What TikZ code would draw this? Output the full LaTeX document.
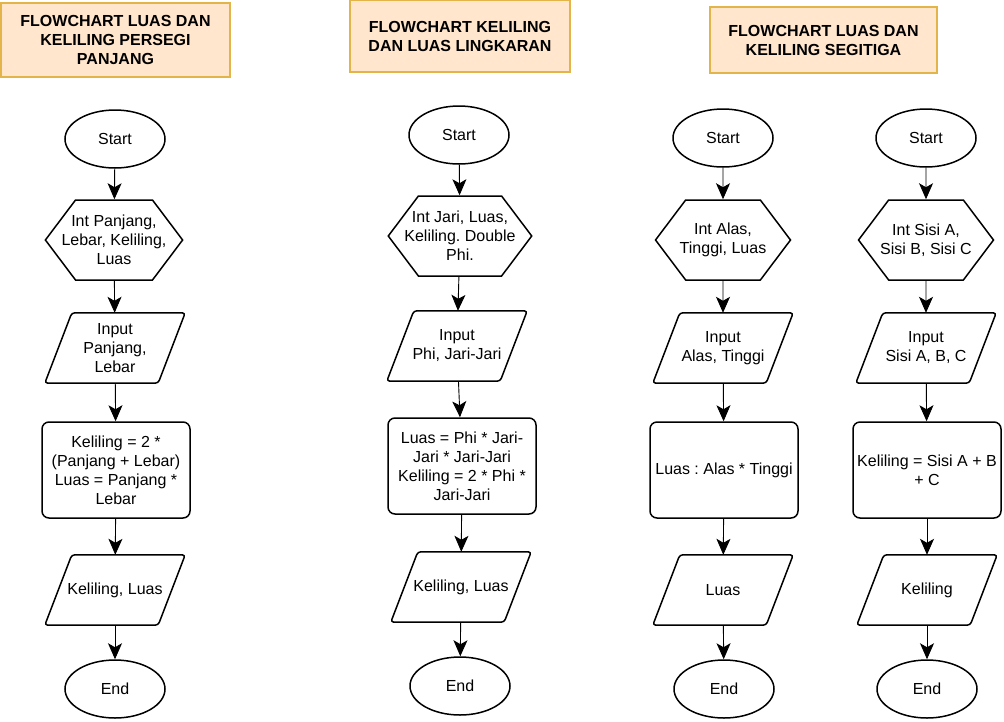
\documentclass[tikz,border=0pt]{standalone}
\usepackage{fontspec}
\setmainfont{Liberation Sans}
\usetikzlibrary{arrows.meta,shapes.geometric,shapes.symbols}
\definecolor{titlefill}{HTML}{FFE6CC}
\definecolor{titleline}{HTML}{E3B449}
\newcommand{\flowfont}{\fontsize{16}{19}\selectfont\frenchspacing}
\tikzset{
titlebox/.style={draw=titleline, fill=titlefill, line width=1.2pt, align=center, inner sep=0pt, font=\bfseries\flowfont},
termbox/.style={draw, ellipse, line width=1.5pt, minimum width=100pt, minimum height=58pt, inner sep=0pt, font=\flowfont},
declbox/.style={draw, signal, signal to=west and east, signal pointer angle=106, line width=1.5pt, minimum width=135pt, minimum height=80pt, inner xsep=-14pt, inner ysep=0pt, align=center, font=\flowfont},
iobox/.style={minimum width=113pt, minimum height=70pt, inner sep=0pt, align=center, font=\flowfont},
ioline/.style={draw, line width=1.5pt, rounded corners=3pt},
procbox/.style={draw, rounded corners=7pt, line width=1.5pt, minimum width=148pt, minimum height=96pt, inner sep=0pt, align=center, font=\flowfont},
flowarrow/.style={-{Stealth[length=16pt, width=14pt, inset=4pt]}, line width=0.9pt}
}
\begin{document}
\begin{tikzpicture}[x=1pt,y=-1pt]
\useasboundingbox (0,0) rectangle (1004,721);

% titles
\node[titlebox, minimum width=229pt, minimum height=74pt] (title1) at (115.5,40) {FLOWCHART LUAS DAN\\KELILING PERSEGI\\PANJANG};
\node[titlebox, minimum width=220pt, minimum height=72pt] (title2) at (460,36) {FLOWCHART KELILING\\DAN LUAS LINGKARAN};
\node[titlebox, minimum width=227pt, minimum height=66pt] (title3) at (823.5,40) {FLOWCHART LUAS DAN\\KELILING SEGITIGA};

% persegi panjang
\node[termbox] (start1) at (115,139) {Start};
\node[declbox] (decl1) at (114,240) {Int Panjang,\\Lebar, Keliling,\\Luas};
\node[iobox] (input1) at (115,348) {Input\\Panjang,\\Lebar};
\node[procbox] (proc1) at (116,470) {Keliling = 2 *\\(Panjang + Lebar)\\Luas = Panjang *\\Lebar};
\node[iobox] (output1) at (115,590) {Keliling, Luas};
\node[termbox] (end1) at (115,689) {End};

% lingkaran
\node[termbox] (start2) at (459,135) {Start};
\node[declbox] (decl2) at (460,236) {Int Jari, Luas,\\Keliling. Double\\Phi.};
\node[iobox] (input2) at (457,346) {Input\\Phi, Jari-Jari};
\node[procbox] (proc2) at (462,466) {Luas = Phi * Jari-\\Jari * Jari-Jari\\Keliling = 2 * Phi *\\Jari-Jari};
\node[iobox] (output2) at (461,587) {Keliling, Luas};
\node[termbox] (end2) at (460,686) {End};

% segitiga: luas
\node[termbox] (start3) at (723,138) {Start};
\node[declbox] (decl3) at (723,240) {Int Alas,\\Tinggi, Luas};
\node[iobox] (input3) at (723,348) {Input\\Alas, Tinggi};
\node[procbox] (proc3) at (724,470) {Luas : Alas * Tinggi};
\node[iobox] (output3) at (723,590) {Luas};
\node[termbox] (end3) at (724,689) {End};

% segitiga: keliling
\node[termbox] (start4) at (926,138) {Start};
\node[declbox] (decl4) at (926,240) {Int Sisi A,\\Sisi B, Sisi C};
\node[iobox] (input4) at (926,348) {Input\\Sisi A, B, C};
\node[procbox] (proc4) at (927,470) {Keliling = Sisi A + B\\+ C};
\node[iobox] (output4) at (927,590) {Keliling};
\node[termbox] (end4) at (927,689) {End};

% parallelogram outlines
\foreach \n in {input1,output1,input2,output2,input3,output3,input4,output4}
  \draw[ioline] ([xshift=-13.5pt]\n.south west) -- ([xshift=13.5pt]\n.north west)
    -- ([xshift=13.5pt]\n.north east) -- ([xshift=-13.5pt]\n.south east) -- cycle;

\foreach \c in {1,...,4}
  \foreach \a/\b in {start/decl,decl/input,input/proc,proc/output,output/end}
    \draw[flowarrow] (\a\c) -- (\b\c);
\end{tikzpicture}
\end{document}
